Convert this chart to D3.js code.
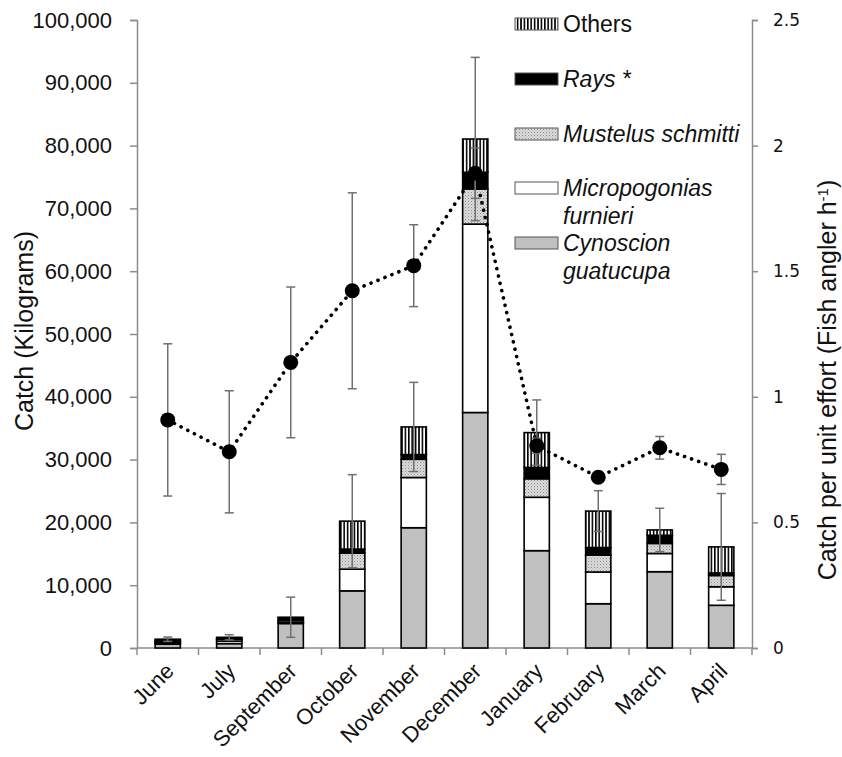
<!DOCTYPE html>
<html>
<head>
<meta charset="utf-8">
<script src="https://cdn.jsdelivr.net/npm/d3@7"></script>
<style>
body { margin: 0; background: #fff; }
svg { display: block; font-family: "Liberation Sans", Arial, sans-serif; }
</style>
</head>
<body>
<svg id="chart" width="842" height="757"></svg>
<script>
// data
const months = ["June", "July", "September", "October", "November", "December", "January", "February", "March", "April"];
const cynoscion = [600, 700, 3900, 9100, 19150, 37500, 15500, 7050, 12150, 6800];
const micropogonias = [250, 400, 200, 3450, 8000, 30000, 8500, 5050, 2900, 2950];
const mustelus = [100, 300, 300, 2550, 2900, 5600, 2950, 2700, 1600, 1800];
const rays = [250, 100, 400, 650, 750, 2650, 1800, 1200, 1300, 400];
const others = [200, 200, 100, 4450, 4400, 5300, 5550, 5800, 850, 4150];
const catchErr = [350, 420, 3200, 7400, 7100, 13000, 5200, 3250, 3450, 8500];
const cpue = [0.908, 0.781, 1.137, 1.422, 1.522, 1.89, 0.805, 0.68, 0.797, 0.711];
const cpueErr = [0.303, 0.243, 0.30, 0.39, 0.163, 0.10, 0.03, 0.02, 0.045, 0.06];
const leftTicks = [0, 10000, 20000, 30000, 40000, 50000, 60000, 70000, 80000, 90000, 100000];
const rightTicks = [0, 0.5, 1, 1.5, 2, 2.5];

const svg = d3.select("#chart");
const defs = svg.append("defs");

// fill patterns
const stripes = defs.append("pattern")
    .attr("id", "stripes").attr("patternUnits", "userSpaceOnUse")
    .attr("width", 3.4).attr("height", 10);
stripes.append("rect").attr("width", 3.4).attr("height", 10).attr("fill", "#fff");
stripes.append("rect").attr("width", 1.6).attr("height", 10).attr("fill", "#000");

const stipple = defs.append("pattern")
    .attr("id", "stipple").attr("patternUnits", "userSpaceOnUse")
    .attr("width", 3).attr("height", 3);
stipple.append("rect").attr("width", 3).attr("height", 3).attr("fill", "#dcdcdc");
stipple.append("rect").attr("width", 1).attr("height", 1).attr("fill", "#8a8a8a");
stipple.append("rect").attr("x", 1.5).attr("y", 1.5).attr("width", 1).attr("height", 1).attr("fill", "#aaa");

const series = [
    { key: "cyn", values: cynoscion, fill: "#c0c0c0", label: ["Cynoscion", "guatucupa"], italic: true },
    { key: "mic", values: micropogonias, fill: "#fff", label: ["Micropogonias", "furnieri"], italic: true },
    { key: "mus", values: mustelus, fill: "url(#stipple)", label: ["Mustelus schmitti"], italic: true },
    { key: "ray", values: rays, fill: "#000", label: ["Rays *"], italic: true },
    { key: "oth", values: others, fill: "url(#stripes)", label: ["Others"], italic: false }
];

const table = months.map((m, i) => {
    const row = { month: m };
    series.forEach(s => row[s.key] = s.values[i]);
    return row;
});
const stacked = d3.stack().keys(series.map(s => s.key))(table);

// scales
const x = d3.scaleBand().domain(months).range([137, 752]);
const y = d3.scaleLinear().domain([0, 100000]).range([648, 20]);
const yR = d3.scaleLinear().domain([0, 2.5]).range([648, 20]);
const step = x.step();
const barW = step * 0.41;
const cx = m => x(m) + step / 2;

// axes
const axisColor = "#8c8c8c";

const leftAxis = svg.append("g")
    .attr("transform", "translate(137,0)")
    .call(d3.axisLeft(y).tickValues(leftTicks).tickFormat(d3.format(",")).tickSize(7).tickPadding(18));
leftAxis.selectAll("text").attr("font-size", 22).attr("fill", "#111").attr("font-family", "Liberation Sans, Arial, sans-serif");

const rightAxis = svg.append("g")
    .attr("transform", "translate(752,0)")
    .call(d3.axisRight(yR).tickValues(rightTicks).tickFormat(d => d).tickSize(6).tickPadding(15));
rightAxis.selectAll("text").attr("font-size", 17).attr("fill", "#111").attr("font-family", "DejaVu Sans, Verdana, sans-serif");

[leftAxis, rightAxis].forEach(g => {
    g.select(".domain").attr("stroke", axisColor).attr("stroke-width", 1.5);
    g.selectAll(".tick line").attr("stroke", axisColor).attr("stroke-width", 1.5);
});

// bottom axis: line with ticks between categories
const bottom = svg.append("g");
bottom.append("line")
    .attr("x1", 137).attr("x2", 752).attr("y1", y(0)).attr("y2", y(0))
    .attr("stroke", axisColor).attr("stroke-width", 1.5);
bottom.selectAll("line.tk")
    .data(months.concat([null]))
    .enter().append("line")
    .attr("class", "tk")
    .attr("x1", d => d === null ? 752 : x(d))
    .attr("x2", d => d === null ? 752 : x(d))
    .attr("y1", y(0)).attr("y2", y(0) + 7)
    .attr("stroke", axisColor).attr("stroke-width", 1.5);
bottom.selectAll("text")
    .data(months)
    .enter().append("text")
    .attr("transform", d => `translate(${cx(d) + 2},${y(0) + 19}) rotate(-45)`)
    .attr("text-anchor", "end")
    .attr("dy", "0.35em")
    .attr("font-size", 22)
    .attr("fill", "#111")
    .text(d => d);

// axis titles
svg.append("text")
    .attr("transform", "translate(33,331) rotate(-90)")
    .attr("text-anchor", "middle")
    .attr("font-size", 25)
    .attr("fill", "#111")
    .text("Catch (Kilograms)");

const rt = svg.append("text")
    .attr("transform", "translate(836,380) rotate(-90)")
    .attr("text-anchor", "middle")
    .attr("font-size", 25)
    .attr("fill", "#111");
rt.append("tspan").text("Catch per unit effort (Fish angler h");
rt.append("tspan").attr("font-size", 15).attr("baseline-shift", "super").text("-1");
rt.append("tspan").text(")");

// stacked bars
const layers = svg.append("g").selectAll("g")
    .data(stacked)
    .enter().append("g")
    .attr("fill", (d, i) => series[i].fill);
layers.selectAll("rect")
    .data(d => d)
    .enter().append("rect")
    .attr("x", d => cx(d.data.month) - barW / 2)
    .attr("width", barW)
    .attr("y", d => y(d[1]))
    .attr("height", d => y(d[0]) - y(d[1]))
    .attr("stroke", "#000")
    .attr("stroke-width", 1.6);

// catch error bars
const totals = table.map(r => series.reduce((a, s) => a + r[s.key], 0));
const errColor = "#707070";
const catchErrG = svg.append("g").attr("stroke", errColor).attr("stroke-width", 1.5);
months.forEach((m, i) => {
    const top = y(totals[i] + catchErr[i]);
    const bot = y(totals[i] - catchErr[i]);
    catchErrG.append("line").attr("x1", cx(m)).attr("x2", cx(m)).attr("y1", top).attr("y2", bot);
    catchErrG.append("line").attr("x1", cx(m) - 4.5).attr("x2", cx(m) + 4.5).attr("y1", top).attr("y2", top);
    catchErrG.append("line").attr("x1", cx(m) - 4.5).attr("x2", cx(m) + 4.5).attr("y1", bot).attr("y2", bot);
});

// CPUE dotted line
const line = d3.line().x((d, i) => cx(months[i])).y(d => yR(d));
svg.append("path")
    .datum(cpue)
    .attr("d", line)
    .attr("fill", "none")
    .attr("stroke", "#000")
    .attr("stroke-width", 3.6)
    .attr("stroke-linecap", "round")
    .attr("stroke-dasharray", "0.1,7.4");

// CPUE error bars
const cpueErrG = svg.append("g").attr("stroke", errColor).attr("stroke-width", 1.5);
months.forEach((m, i) => {
    const top = yR(cpue[i] + cpueErr[i]);
    const bot = yR(cpue[i] - cpueErr[i]);
    cpueErrG.append("line").attr("x1", cx(m)).attr("x2", cx(m)).attr("y1", top).attr("y2", bot);
    cpueErrG.append("line").attr("x1", cx(m) - 4.5).attr("x2", cx(m) + 4.5).attr("y1", top).attr("y2", top);
    cpueErrG.append("line").attr("x1", cx(m) - 4.5).attr("x2", cx(m) + 4.5).attr("y1", bot).attr("y2", bot);
});

svg.append("g").selectAll("circle")
    .data(cpue)
    .enter().append("circle")
    .attr("cx", (d, i) => cx(months[i]))
    .attr("cy", d => yR(d))
    .attr("r", 7.5)
    .attr("fill", "#000");

// legend, top entry first
const legendRows = [
    { s: series[4], y: 24 },
    { s: series[3], y: 79 },
    { s: series[2], y: 134 },
    { s: series[1], y: 188 },
    { s: series[0], y: 243 }
];
const legend = svg.append("g");
legendRows.forEach(r => {
    legend.append("rect")
        .attr("x", 515).attr("y", r.y - 6)
        .attr("width", 43).attr("height", 12)
        .attr("fill", r.s.fill)
        .attr("stroke", "#555").attr("stroke-width", 1);
    const t = legend.append("text")
        .attr("x", 563).attr("y", r.y)
        .attr("font-size", 23)
        .attr("fill", "#111")
        .attr("font-style", r.s.italic ? "italic" : "normal");
    r.s.label.forEach((l, k) => {
        t.append("tspan").attr("x", 563).attr("dy", k === 0 ? "0.35em" : "1.2em").text(l);
    });
});
</script>
</body>
</html>
